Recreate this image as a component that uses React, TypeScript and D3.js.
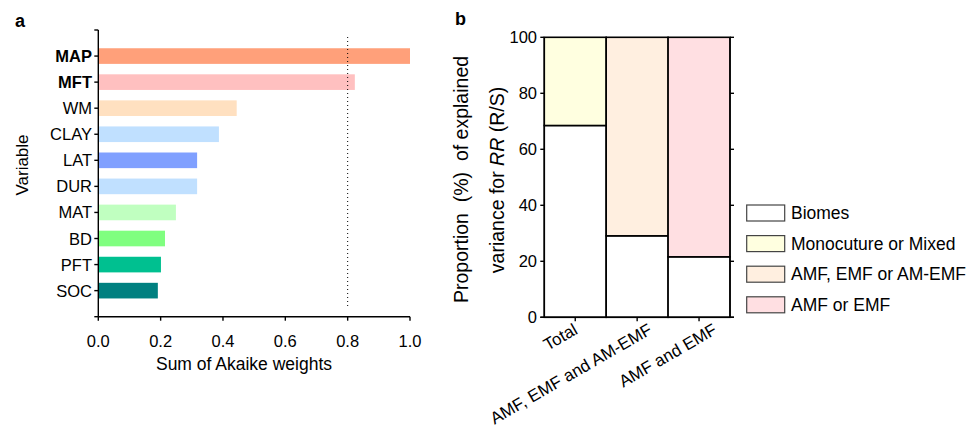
import React from "react";
import * as d3 from "d3";

// ---------- Panel a data ----------
const variables = ["MAP", "MFT", "WM", "CLAY", "LAT", "DUR", "MAT", "BD", "PFT", "SOC"];
const weights = [1.0, 0.823, 0.444, 0.387, 0.317, 0.317, 0.249, 0.214, 0.201, 0.191];
const barColors = ["#FFA07A", "#FFC0C0", "#FFE0C0", "#C0E0FF", "#80A0FF", "#C0E0FF", "#C0FFC0", "#80FF80", "#00C090", "#008080"];
const boldVars = ["MAP", "MFT"];
const xTicksA = [0, 0.2, 0.4, 0.6, 0.8, 1.0];
const threshold = 0.8;

// ---------- Panel b data ----------
const groups = ["Total", "AMF, EMF and AM-EMF", "AMF and EMF"];
const biomes = [68.5, 29.1, 21.6];
const mono = [31.5, 0, 0];
const amfEmfAm = [0, 70.9, 0];
const amfOrEmf = [0, 0, 78.4];
const seriesKeys = ["Biomes", "Monocuture or Mixed", "AMF, EMF or AM-EMF", "AMF or EMF"];
const seriesColors = ["#FFFFFF", "#FFFFE0", "#FFEFE0", "#FFDFE2"];
const yTicksB = [0, 20, 40, 60, 80, 100];

// layout constants
const labelOffsets = [3.5, 16, 19];
const FONT = "'Liberation Sans', Arial, Helvetica, sans-serif";

export default function App() {
  // panel a scales
  const xA = d3.scaleLinear().domain([0, 1]).range([98.3, 410]);
  const yA = d3.scalePoint<string>().domain(variables).range([30, 316.7]).padding(1);
  const barH = yA.step() * 0.6;

  // panel b scales
  const xB = d3.scaleBand<string>().domain(groups).range([544.3, 730]).padding(0);
  const yB = d3.scaleLinear().domain([0, 100]).range([317.3, 37.3]);

  const tableB = groups.map((g, i) => ({
    group: g,
    [seriesKeys[0]]: biomes[i],
    [seriesKeys[1]]: mono[i],
    [seriesKeys[2]]: amfEmfAm[i],
    [seriesKeys[3]]: amfOrEmf[i],
  }));
  const stacked = d3.stack<any>().keys(seriesKeys)(tableB);

  const axisW = 1.4;

  return (
    <svg
      width={972}
      height={428}
      style={{ position: "absolute", left: 0, top: 0, background: "#fff" }}
      fontFamily={FONT}
    >
      <rect x={0} y={0} width={972} height={428} fill="#fff" />
      {/* Panel a */}
      <text x={15} y={27} fontSize={18} fontWeight="bold">a</text>

      {variables.map((v, i) => (
        <rect
          key={v}
          x={xA(0)}
          y={(yA(v) as number) - barH / 2}
          width={xA(weights[i]) - xA(0)}
          height={barH}
          fill={barColors[i]}
        />
      ))}

      <line
        x1={xA(threshold)}
        x2={xA(threshold)}
        y1={37}
        y2={309}
        stroke="#000"
        strokeWidth={1}
        strokeDasharray="1,3"
      />

      {/* y axis a */}
      <line x1={xA(0)} x2={xA(0)} y1={30} y2={316.7} stroke="#000" strokeWidth={axisW} />
      {[30, 316.7].map((y) => (
        <line key={y} x1={xA(0) - 4} x2={xA(0)} y1={y} y2={y} stroke="#000" strokeWidth={axisW} />
      ))}
      {variables.map((v) => (
        <g key={v}>
          <line x1={xA(0) - 4} x2={xA(0)} y1={yA(v)} y2={yA(v)} stroke="#000" strokeWidth={axisW} />
          <text
            x={92}
            y={(yA(v) as number) + 6}
            fontSize={16.5}
            textAnchor="end"
            fontWeight={boldVars.includes(v) ? "bold" : "normal"}
          >
            {v}
          </text>
        </g>
      ))}
      <text transform="translate(28,165) rotate(-90)" fontSize={17} textAnchor="middle">Variable</text>

      {/* x axis a */}
      <line x1={xA(0)} x2={xA(1)} y1={316.7} y2={316.7} stroke="#000" strokeWidth={axisW} />
      {xTicksA.map((t) => (
        <g key={t}>
          <line x1={xA(t)} x2={xA(t)} y1={316.7} y2={320.7} stroke="#000" strokeWidth={axisW} />
          <text x={xA(t)} y={346.5} fontSize={16.5} textAnchor="middle">{d3.format(".1f")(t)}</text>
        </g>
      ))}
      <text x={244} y={370} fontSize={17.5} textAnchor="middle">Sum of Akaike weights</text>

      {/* Panel b */}
      <text x={455} y={25} fontSize={18} fontWeight="bold">b</text>

      {stacked.map((s, si) =>
        s.map((d, gi) =>
          d[1] - d[0] > 0 ? (
            <rect
              key={`${si}-${gi}`}
              x={xB(groups[gi]) as number}
              y={yB(d[1])}
              width={xB.bandwidth()}
              height={yB(d[0]) - yB(d[1])}
              fill={seriesColors[si]}
              stroke="#000"
              strokeWidth={1.6}
            />
          ) : null
        )
      )}

      {/* left axis b */}
      <line x1={544.3} x2={544.3} y1={yB(100)} y2={yB(0)} stroke="#000" strokeWidth={axisW} />
      {yTicksB.map((t) => (
        <g key={t}>
          <line x1={540.3} x2={544.3} y1={yB(t)} y2={yB(t)} stroke="#000" strokeWidth={axisW} />
          <text x={537} y={yB(t) + 6} fontSize={16.5} textAnchor="end">{t}</text>
        </g>
      ))}
      {/* right axis b */}
      <line x1={730} x2={730} y1={yB(100)} y2={yB(0)} stroke="#000" strokeWidth={axisW} />
      {yTicksB.map((t) => (
        <line key={t} x1={730} x2={734} y1={yB(t)} y2={yB(t)} stroke="#000" strokeWidth={axisW} />
      ))}
      {/* bottom axis b */}
      <line x1={540.3} x2={734} y1={yB(0)} y2={yB(0)} stroke="#000" strokeWidth={axisW} />
      {groups.map((g, i) => {
        const cx = (xB(g) as number) + xB.bandwidth() / 2;
        return (
          <g key={g}>
            <line x1={cx} x2={cx} y1={yB(0)} y2={yB(0) + 4} stroke="#000" strokeWidth={axisW} />
            <text
              transform={`translate(${cx + labelOffsets[i]},${333}) rotate(-30)`}
              fontSize={17}
              textAnchor="end"
            >
              {g}
            </text>
          </g>
        );
      })}

      {/* y label b */}
      <text transform="translate(468,179.5) rotate(-90)" fontSize={19.5} textAnchor="middle" xmlSpace="preserve">
        {"Proportion  (%)  of explained"}
      </text>
      <text transform="translate(504,180) rotate(-90)" fontSize={19.5} textAnchor="middle">
        variance for <tspan fontStyle="italic">RR</tspan> (R/S)
      </text>

      {/* legend */}
      {seriesKeys.map((k, i) => {
        const y = 205 + i * 30.6;
        return (
          <g key={k}>
            <rect x={746.7} y={y} width={38} height={16} fill={seriesColors[i]} stroke="#444" strokeWidth={1.2} />
            <text x={791} y={y + 14} fontSize={17.5}>{k}</text>
          </g>
        );
      })}
    </svg>
  );
}
